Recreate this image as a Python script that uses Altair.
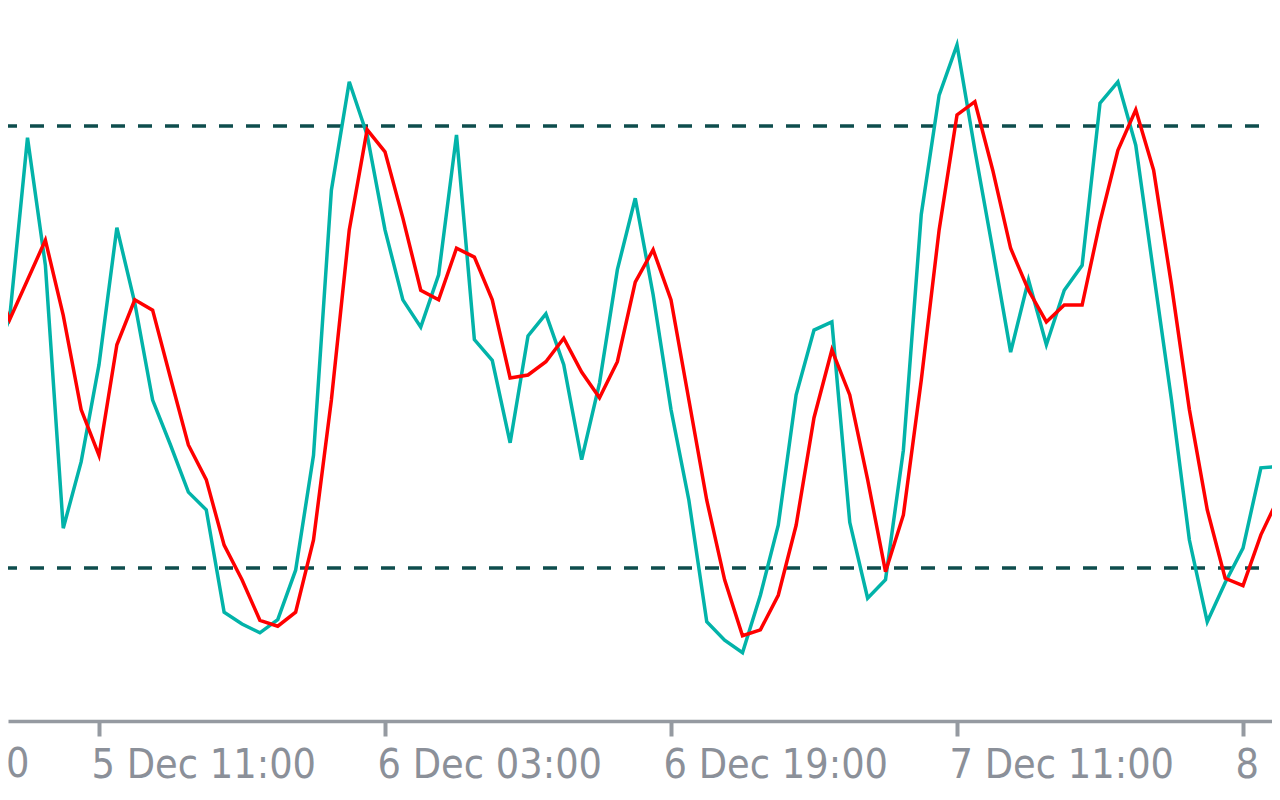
import altair as alt
import pandas as pd

# Hourly bars, first one at 5 Dec 05:00 (UTC)
FIRST_BAR = "2023-12-05 05:00"

main_line = [
    47.6, 53.9, 78.4, 61.1, 25.4, 34.4, 47.6, 66.2, 56.0, 42.8,
    36.7, 30.3, 27.9, 14.0, 12.4, 11.2, 13.0, 19.7, 35.3, 71.3,
    86.0, 78.8, 65.9, 56.4, 52.7, 59.8, 78.8, 51.0, 48.2, 37.0,
    51.5, 54.5, 47.6, 34.7, 45.1, 60.5, 70.2, 57.1, 41.5, 29.2,
    12.7, 10.2, 8.5, 16.3, 25.8, 43.5, 52.3, 53.4, 26.2, 15.9,
    18.4, 36.0, 68.0, 84.2, 91.0, 76.7, 63.2, 49.3, 59.1, 50.3,
    57.7, 61.1, 83.1, 86.0, 77.4, 60.0, 42.8, 23.8, 12.7, 18.0,
    22.7, 33.6, 33.8, 29.2,
]

signal_line = [
    60.2, 53.7, 59.1, 64.5, 54.3, 41.5, 35.3, 50.3, 56.4, 55.0,
    45.8, 36.7, 32.0, 23.1, 18.4, 12.9, 12.1, 14.0, 23.8, 42.8,
    65.9, 79.5, 76.5, 67.5, 57.7, 56.4, 63.4, 62.2, 56.4, 45.8,
    46.2, 48.0, 51.2, 46.6, 43.1, 48.0, 58.8, 63.2, 56.4, 42.8,
    29.2, 18.4, 10.8, 11.6, 16.3, 25.8, 40.4, 49.6, 43.5, 32.0,
    19.5, 27.2, 45.5, 65.9, 81.5, 83.3, 74.0, 63.4, 57.7, 53.4,
    55.7, 55.7, 67.0, 76.7, 82.2, 74.0, 58.4, 41.5, 27.9, 18.6,
    17.6, 24.5, 29.6, 32.6,
]

levels = [20, 80]

tick_times = [
    "2023-12-04 19:00", "2023-12-05 11:00", "2023-12-06 03:00",
    "2023-12-06 19:00", "2023-12-07 11:00", "2023-12-08 03:00",
]

LABEL_FONT = "DejaVu Sans Condensed, Liberation Sans, sans-serif"
LABEL_SIZE = 41
LABEL_COLOR = "#8b9099"
TICK_SIZE = 15
LABEL_PAD = 41
VIEW_H = 713

times = pd.date_range(FIRST_BAR, periods=len(main_line), freq="h", tz="UTC")
time_str = [str(t) for t in times.strftime("%Y-%m-%dT%H:%M:%SZ")]
df = pd.DataFrame({"time": time_str, "main": main_line, "signal": signal_line})
lv = pd.DataFrame({"level": levels})


def ms(ts):
    return int(pd.Timestamp(ts, tz="UTC").value // 10**6)


anchor = ms("2023-12-05 11:00")
HOUR = 3600 * 1000
x_domain = [anchor - int(5.091 * HOUR), anchor + int(65.622 * HOUR)]
tick_values = [ms(t) for t in tick_times]

# the first tick lies left of the visible window: its label is drawn as text
first = pd.Timestamp(tick_times[0], tz="UTC")
edge_df = pd.DataFrame({
    "time": [first.strftime("%Y-%m-%dT%H:%M:%SZ")],
    "label": [f"{first.day} {first.strftime('%b %H:%M')}"],
})

x_scale = alt.Scale(type="utc", domain=x_domain, nice=False)
y_scale = alt.Scale(domain=[-0.77, 96.02], nice=False, zero=False)

x_axis = alt.Axis(
    values=tick_values,
    labelExpr="utcFormat(datum.value, '%-d %b %H:%M')",
    title=None,
    grid=False,
    domainColor="#959aa1",
    domainWidth=3.5,
    tickColor="#959aa1",
    tickWidth=4,
    tickSize=TICK_SIZE,
    labelAlign="left",
    labelBaseline="alphabetic",
    labelPadding=LABEL_PAD,
    labelOffset=-8,
    labelFont=LABEL_FONT,
    labelFontSize=LABEL_SIZE,
    labelColor=LABEL_COLOR,
    labelLimit=0,
    labelOverlap=False,
    labelFlush=False,
    labelBound=False,
)

x_enc = alt.X("time:T", scale=x_scale, axis=x_axis)

main_mark = alt.Chart(df).mark_line(color="#02b3a9", strokeWidth=3.5, clip=True).encode(
    x=x_enc,
    y=alt.Y("main:Q", scale=y_scale, axis=None),
)

signal_mark = alt.Chart(df).mark_line(color="#ff0000", strokeWidth=3.5, clip=True).encode(
    x=x_enc,
    y=alt.Y("signal:Q", scale=y_scale, axis=None),
)

rules = alt.Chart(lv).mark_rule(
    color="#0e4d4d", strokeWidth=3.5, strokeDash=[14, 13], strokeDashOffset=14
).encode(y=alt.Y("level:Q", scale=y_scale, axis=None))

edge_label = alt.Chart(edge_df).mark_text(
    align="left", baseline="alphabetic", dx=-8,
    font=LABEL_FONT, fontSize=LABEL_SIZE, color=LABEL_COLOR,
).encode(
    x=x_enc,
    y=alt.value(VIEW_H + TICK_SIZE + LABEL_PAD),
    text="label:N",
)

chart = (
    alt.layer(rules, main_mark, signal_mark, edge_label)
    .properties(
        width=1264,
        height=VIEW_H,
        autosize="none",
        padding={"left": 0, "top": 0, "right": 0, "bottom": 68},
        background="white",
    )
    .configure_view(strokeWidth=0)
)

chart.save("out.html", embed_options={"renderer": "svg", "actions": False})
